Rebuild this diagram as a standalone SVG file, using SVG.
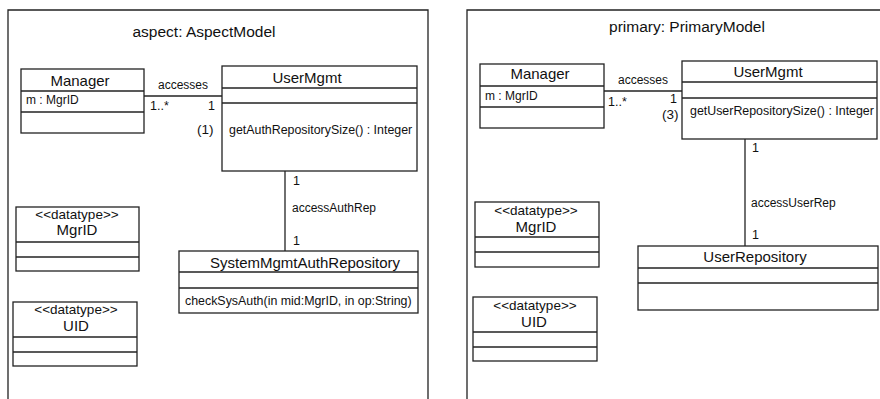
<svg xmlns="http://www.w3.org/2000/svg" width="880" height="399" viewBox="0 0 880 399">
<style>
.b{fill:#fff;stroke:#222;stroke-width:1.3}
.d{stroke:#222;stroke-width:1.3;fill:none}
text{font-family:"Liberation Sans",Arial,sans-serif;fill:#111}
.t{font-size:15.5px;text-anchor:middle}
.n{font-size:15px;text-anchor:middle}
.a{font-size:12px}
.o{font-size:12.4px}
.s{font-size:13.5px;text-anchor:middle}
.l{font-size:12px}
.m{font-size:12.5px}
</style>
<rect width="880" height="399" fill="#fff"/>
<g id="frame-aspect">
<path class="d" d="M8,399 V10 H428 V399"/>
<text class="t" x="204" y="37">aspect: AspectModel</text>
</g>
<g id="frame-primary">
<path class="d" d="M467,399 V10 H880"/>
<text class="t" x="687" y="32">primary: PrimaryModel</text>
</g>
<g id="connectors">
<line class="d" x1="144" y1="96" x2="222" y2="96"/>
<text class="l" x="183" y="89" text-anchor="middle">accesses</text>
<text class="m" x="150" y="110">1..*</text>
<text class="m" x="208" y="110">1</text>
<line class="d" x1="285" y1="171" x2="285" y2="251"/>
<text class="m" x="293" y="185">1</text>
<text class="l" x="292" y="212">accessAuthRep</text>
<text class="m" x="293" y="245">1</text>
<line class="d" x1="604" y1="91" x2="682" y2="91"/>
<text class="l" x="643" y="84" text-anchor="middle">accesses</text>
<text class="m" x="608" y="106">1..*</text>
<text class="m" x="670" y="103">1</text>
<line class="d" x1="745" y1="139" x2="745" y2="246"/>
<text class="m" x="752" y="152">1</text>
<text class="l" x="751" y="207">accessUserRep</text>
<text class="m" x="752" y="239">1</text>
</g>
<g id="aspect-manager">
<rect class="b" x="21" y="69" width="123" height="64"/>
<line class="d" x1="21" y1="91" x2="144" y2="91"/>
<line class="d" x1="21" y1="112" x2="144" y2="112"/>
<text class="n" x="80" y="86">Manager</text>
<text class="a" x="26" y="104">m : MgrID</text>
</g>
<g id="aspect-usermgmt">
<rect class="b" x="222" y="66" width="195" height="105"/>
<line class="d" x1="222" y1="88" x2="417" y2="88"/>
<line class="d" x1="222" y1="103" x2="417" y2="103"/>
<text class="n" x="307" y="83">UserMgmt</text>
<text class="o" x="229" y="134">getAuthRepositorySize() : Integer</text>
<text x="197" y="134" style="font-size:13.5px">(1)</text>
</g>
<g id="aspect-repo">
<rect class="b" x="179" y="251" width="239" height="62"/>
<line class="d" x1="179" y1="272" x2="418" y2="272"/>
<line class="d" x1="179" y1="288" x2="418" y2="288"/>
<text class="n" x="305" y="268">SystemMgmtAuthRepository</text>
<text class="o" x="185" y="305">checkSysAuth(in mid:MgrID, in op:String)</text>
</g>
<g id="aspect-mgrid">
<rect class="b" x="16" y="207" width="123" height="64"/>
<line class="d" x1="16" y1="242" x2="139" y2="242"/>
<line class="d" x1="16" y1="257" x2="139" y2="257"/>
<text class="s" x="77" y="219">&lt;&lt;datatype&gt;&gt;</text>
<text class="n" x="77" y="235">MgrID</text>
</g>
<g id="aspect-uid">
<rect class="b" x="13" y="302" width="124" height="64"/>
<line class="d" x1="13" y1="337" x2="137" y2="337"/>
<line class="d" x1="13" y1="352" x2="137" y2="352"/>
<text class="s" x="76" y="314">&lt;&lt;datatype&gt;&gt;</text>
<text class="n" x="76" y="331">UID</text>
</g>
<g id="primary-manager">
<rect class="b" x="480" y="64" width="124" height="64"/>
<line class="d" x1="480" y1="86" x2="604" y2="86"/>
<line class="d" x1="480" y1="107" x2="604" y2="107"/>
<text class="n" x="540" y="79">Manager</text>
<text class="a" x="485" y="100">m : MgrID</text>
</g>
<g id="primary-usermgmt">
<rect class="b" x="682" y="61" width="195" height="78"/>
<line class="d" x1="682" y1="82" x2="877" y2="82"/>
<line class="d" x1="682" y1="98" x2="877" y2="98"/>
<text class="n" x="768" y="77">UserMgmt</text>
<text class="o" x="690" y="115">getUserRepositorySize() : Integer</text>
<text x="662" y="119" style="font-size:13.5px">(3)</text>
</g>
<g id="primary-repo">
<rect class="b" x="638" y="246" width="240" height="64"/>
<line class="d" x1="638" y1="268" x2="878" y2="268"/>
<line class="d" x1="638" y1="283" x2="878" y2="283"/>
<text class="n" x="755" y="262">UserRepository</text>
</g>
<g id="primary-mgrid">
<rect class="b" x="475" y="202" width="124" height="65"/>
<line class="d" x1="475" y1="237" x2="599" y2="237"/>
<line class="d" x1="475" y1="252" x2="599" y2="252"/>
<text class="s" x="536" y="215">&lt;&lt;datatype&gt;&gt;</text>
<text class="n" x="536" y="232">MgrID</text>
</g>
<g id="primary-uid">
<rect class="b" x="473" y="297" width="124" height="64"/>
<line class="d" x1="473" y1="332" x2="597" y2="332"/>
<line class="d" x1="473" y1="347" x2="597" y2="347"/>
<text class="s" x="535" y="310">&lt;&lt;datatype&gt;&gt;</text>
<text class="n" x="534" y="327">UID</text>
</g>
</svg>
